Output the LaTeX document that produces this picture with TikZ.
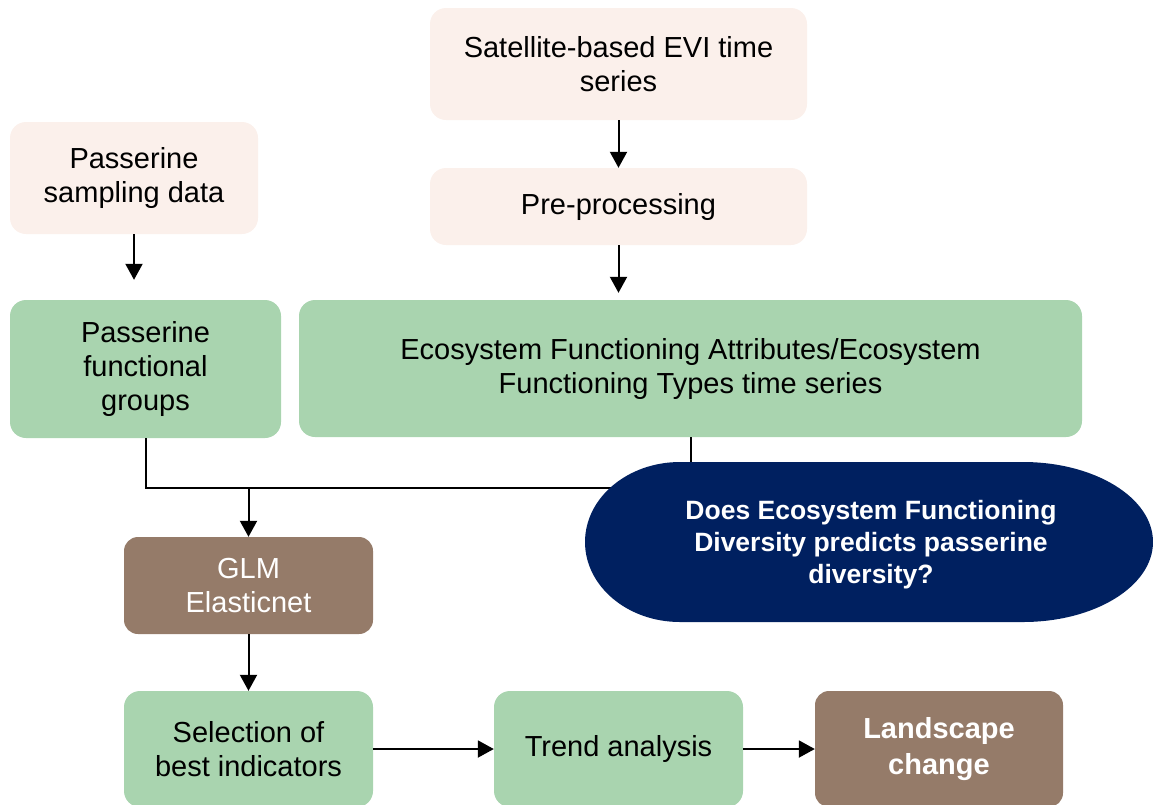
\documentclass[tikz,border=0pt]{standalone}
\usepackage{fontspec}
\setmainfont{Liberation Sans}
\usetikzlibrary{arrows.meta,positioning,calc}

\definecolor{srcpink}{HTML}{FBF0EB}
\definecolor{procgreen}{HTML}{A9D4AF}
\definecolor{modbrown}{HTML}{957B69}
\definecolor{qnavy}{HTML}{002060}

\begin{document}
\begin{tikzpicture}[
    x=1pt, y=-1pt,
    srcbox/.style={fill=srcpink, rounded corners=16pt, align=center, inner sep=0pt, font=\fontsize{29}{34}\selectfont},
    procbox/.style={fill=procgreen, rounded corners=16pt, align=center, inner sep=0pt, font=\fontsize{29}{34}\selectfont},
    modbox/.style={fill=modbrown, text=white, rounded corners=14pt, align=center, inner sep=0pt, font=\fontsize{29}{34}\selectfont},
    qtext/.style={text=white, align=center, font=\bfseries\fontsize{26.5}{32}\selectfont},
    arr/.style={-{Triangle[length=16pt, width=17pt]}, line width=2pt},
    link/.style={line width=2pt}
]
\useasboundingbox (0,0) rectangle (1153,804);

% data sources
\node[srcbox, minimum width=377pt, minimum height=112pt] (evi) at (618.5,64) {Satellite-based EVI time\\series};
\node[srcbox, minimum width=377pt, minimum height=77pt] (prep) at (618.5,206.5) {Pre-processing};
\node[srcbox, minimum width=248pt, minimum height=112pt] (samp) at (134,178) {Passerine\\sampling data};

% derived variables
\node[procbox, minimum width=271pt, minimum height=138pt] (fgroups) at (145.5,369) {Passerine\\functional\\groups};
\node[procbox, minimum width=783pt, minimum height=137pt] (efa) at (690.5,368.5) {Ecosystem Functioning Attributes/Ecosystem\\Functioning Types time series};

% modelling and outputs
\node[modbox, minimum width=249pt, minimum height=97pt] (glm) at (248.5,585.5) {GLM\\Elasticnet};
\node[procbox, minimum width=249pt, minimum height=116pt] (best) at (248.5,749) {Selection of\\best indicators};
\node[procbox, minimum width=249pt, minimum height=116pt] (trend) at (618.5,749) {Trend analysis};
\node[modbox, minimum width=248pt, minimum height=116pt, font=\bfseries\fontsize{29}{36}\selectfont] (land) at (939,749) {Landscape\\change};

\coordinate (join) at (248.5,488);

\draw[arr] (evi) -- (prep);
\draw[arr, shorten >=7pt] (prep.south) -- (prep.south |- efa.north);
\draw[arr, shorten >=20pt] (samp.south) -- (samp.south |- fgroups.north);
\draw[link] (fgroups.south) -- (fgroups.south |- join) -- (efa.south |- join) -- (efa.south);
\draw[arr] (join) -- (glm);
\draw[arr] (glm) -- (best);
\draw[arr] (best) -- (trend);
\draw[arr] (trend) -- (land);

% research question, drawn over the joining lines
\fill[qnavy] (680,462) -- (1023,462)
    arc[start angle=-90, end angle=90, x radius=130, y radius=80]
    -- (680,622)
    arc[start angle=90, end angle=270, x radius=95, y radius=80] -- cycle;
\node[qtext] (question) at (871,545) {Does Ecosystem Functioning\\Diversity predicts passerine\\diversity?};
\end{tikzpicture}
\end{document}
